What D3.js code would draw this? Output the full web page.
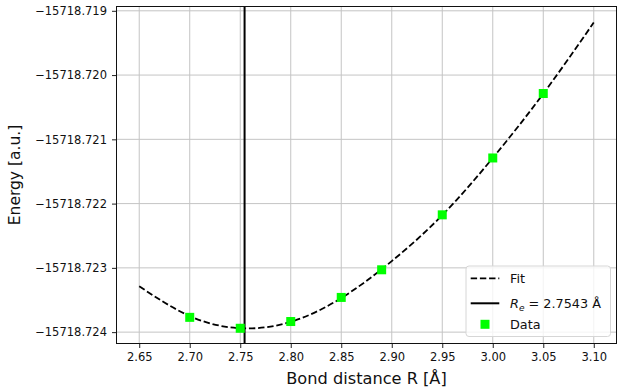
<!DOCTYPE html>
<html>
<head>
<meta charset="utf-8">
<script src="https://cdn.jsdelivr.net/npm/d3@7"></script>
<style>
  html, body { margin: 0; padding: 0; background: #fff; }
  svg { display: block; font-family: "DejaVu Sans", sans-serif; }
</style>
</head>
<body>
<svg id="chart" width="618" height="387"></svg>
<script>
// Sampled data points (bond distance in Å, total energy in a.u.)
const dataR = [2.70, 2.75, 2.80, 2.85, 2.89, 2.95, 3.00, 3.05];
const dataE = [-15718.72377, -15718.72394, -15718.723835, -15718.72346,
               -15718.72303, -15718.722175, -15718.72129, -15718.720287];

// Fitted energy curve, sampled over the plotted range
const fitR = [2.65, 2.70, 2.75, 2.80, 2.85, 2.90, 2.95, 3.00, 3.05, 3.10];
const fitE = [-15718.723287, -15718.72375, -15718.72394, -15718.72384, -15718.72347,
              -15718.722895, -15718.72218, -15718.72129, -15718.72029, -15718.719182];

// Equilibrium bond length from the fit
const Re = 2.7543;

// Tick labels
const xTicks = [2.65, 2.70, 2.75, 2.80, 2.85, 2.90, 2.95, 3.00, 3.05, 3.10];
const yTicks = [-15718.724, -15718.723, -15718.722, -15718.721, -15718.720, -15718.719];

const svg = d3.select("#chart");
const L = 116.5, R = 616.5, T = 6.5, B = 343.5;

const x = d3.scaleLinear().domain([2.6275, 3.1225]).range([L, R]);
const y = d3.scaleLinear().domain([-15718.724177, -15718.718933]).range([B, T]);

// Grid
const grid = svg.append("g").attr("stroke", "#c4c4c4").attr("stroke-width", 1);
grid.selectAll("line.gx").data(xTicks).join("line")
  .attr("x1", d => x(d)).attr("x2", d => x(d)).attr("y1", T).attr("y2", B);
grid.selectAll("line.gy").data(yTicks).join("line")
  .attr("x1", L).attr("x2", R).attr("y1", d => y(d)).attr("y2", d => y(d));

// Axes
const fmtX = d3.format(".2f"), fmtY = d3.format(".3f");
const xAxis = svg.append("g").attr("transform", `translate(0,${B})`)
  .call(d3.axisBottom(x).tickValues(xTicks).tickFormat(fmtX).tickSize(4.5).tickPadding(5).tickSizeOuter(0));
const yAxis = svg.append("g").attr("transform", `translate(${L},0)`)
  .call(d3.axisLeft(y).tickValues(yTicks).tickFormat(fmtY).tickSize(4.5).tickPadding(5).tickSizeOuter(0));
[xAxis, yAxis].forEach(a => {
  a.select(".domain").remove();
  a.selectAll(".tick line").attr("stroke", "#222").attr("stroke-width", 1);
  a.selectAll(".tick text").attr("fill", "#111")
    .style("font-family", "'DejaVu Sans', sans-serif").style("font-size", "11.5px");
});
xAxis.selectAll(".tick text").attr("dy", "0.72em");

// Fit curve
const fitLine = d3.line().x(d => x(d[0])).y(d => y(d[1])).curve(d3.curveNatural);
svg.append("path").datum(d3.zip(fitR, fitE))
  .attr("d", fitLine).attr("fill", "none").attr("stroke", "#000")
  .attr("stroke-width", 1.8).attr("stroke-dasharray", "6.4,2.8");

// Equilibrium line
svg.append("line").attr("x1", x(Re)).attr("x2", x(Re)).attr("y1", T).attr("y2", B)
  .attr("stroke", "#000").attr("stroke-width", 2);

// Data markers
const ms = 9;
svg.selectAll("rect.pt").data(d3.zip(dataR, dataE)).join("rect")
  .attr("x", d => x(d[0]) - ms / 2).attr("y", d => y(d[1]) - ms / 2)
  .attr("width", ms).attr("height", ms).attr("fill", "#00ff00");

// Frame
svg.append("rect").attr("x", L).attr("y", T).attr("width", R - L).attr("height", B - T)
  .attr("fill", "none").attr("stroke", "#111").attr("stroke-width", 1);

// Axis labels
svg.append("text").attr("x", (L + R) / 2).attr("y", 384).attr("text-anchor", "middle")
  .style("font-size", "16.2px").attr("fill", "#111").text("Bond distance R [Å]");
svg.append("text").attr("transform", `translate(19.5,${(T + B) / 2}) rotate(-90)`)
  .attr("text-anchor", "middle").style("font-size", "15.5px").attr("fill", "#111")
  .text("Energy [a.u.]");

// Legend
const lg = svg.append("g");
lg.append("rect").attr("x", 466).attr("y", 266).attr("width", 144.5).attr("height", 70.5)
  .attr("rx", 3).attr("fill", "#fff").attr("fill-opacity", 0.8)
  .attr("stroke", "#d6d6d6").attr("stroke-width", 1);
const hx0 = 470.7, hx1 = 499.3, tx = 510;
const rows = [278.3, 303.3, 324.3];
lg.append("line").attr("x1", hx0).attr("x2", hx1).attr("y1", rows[0]).attr("y2", rows[0])
  .attr("stroke", "#000").attr("stroke-width", 1.8).attr("stroke-dasharray", "6.4,2.8");
lg.append("line").attr("x1", hx0).attr("x2", hx1).attr("y1", rows[1]).attr("y2", rows[1])
  .attr("stroke", "#000").attr("stroke-width", 2);
lg.append("rect").attr("x", (hx0 + hx1) / 2 - ms / 2).attr("y", rows[2] - ms / 2)
  .attr("width", ms).attr("height", ms).attr("fill", "#00ff00");
const lfs = "12.8px";
lg.append("text").attr("x", tx).attr("y", rows[0]).attr("dy", "0.36em")
  .style("font-size", lfs).attr("fill", "#111").text("Fit");
const reText = lg.append("text").attr("x", tx).attr("y", rows[1]).attr("dy", "0.36em")
  .style("font-size", lfs).attr("fill", "#111");
reText.append("tspan").style("font-style", "italic").text("R");
reText.append("tspan").style("font-style", "italic").style("font-size", "9px").attr("dy", 3).text("e");
reText.append("tspan").attr("dy", -3).text(` = ${Re} Å`);
lg.append("text").attr("x", tx).attr("y", rows[2]).attr("dy", "0.36em")
  .style("font-size", lfs).attr("fill", "#111").text("Data");
</script>
</body>
</html>
